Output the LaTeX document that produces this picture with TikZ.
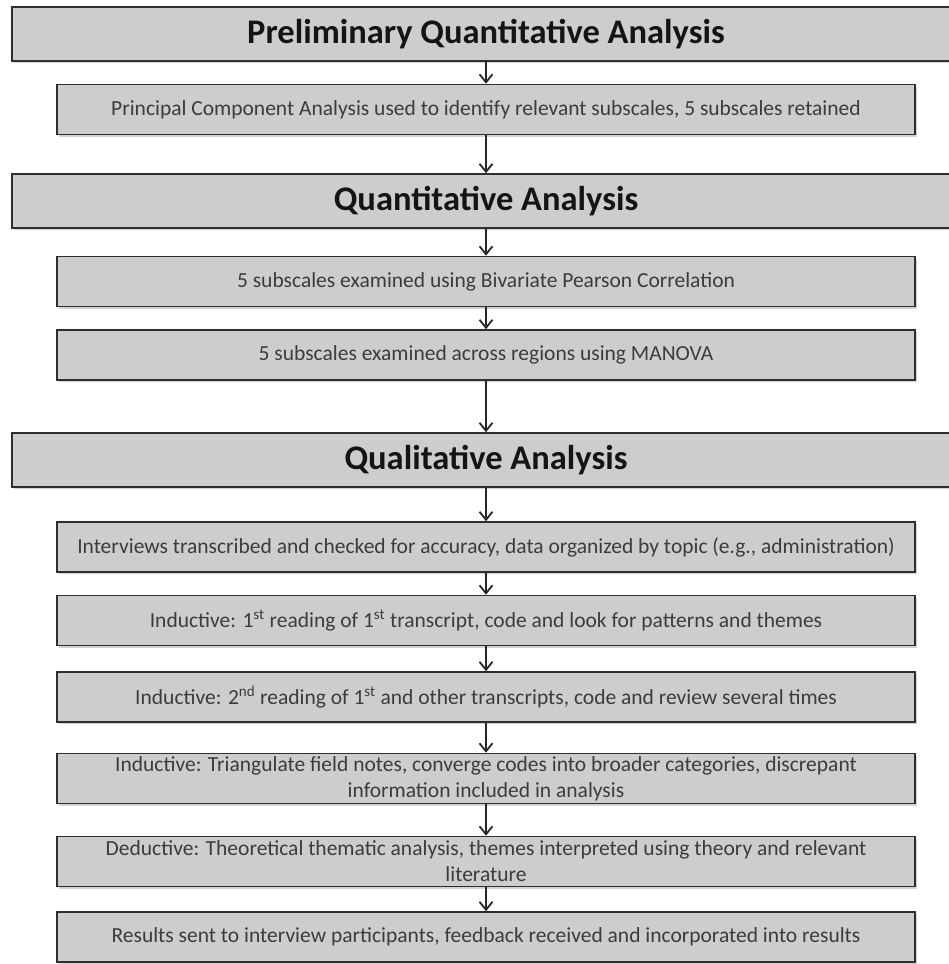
\documentclass[tikz,border=0pt]{standalone}
\usepackage{fontspec}
\setmainfont{Carlito}
\usetikzlibrary{arrows.meta,shadows}
\definecolor{flowfill}{HTML}{CDCDCD}
\definecolor{flowedge}{HTML}{2E2E2E}
\definecolor{flowink}{HTML}{3C3C3C}

\begin{document}
\begin{tikzpicture}[x=1pt,y=-1pt,
    stagebox/.style={draw=flowedge,fill=flowfill,line width=1.6pt,
      minimum width=948pt,minimum height=54pt,inner sep=0pt,
      font=\fontsize{34.5}{40}\selectfont\bfseries,text=black!92,
      drop shadow={opacity=.35,shadow xshift=1.5pt,shadow yshift=-2pt}},
    stepbox/.style={draw=flowedge,fill=flowfill,line width=1.6pt,
      minimum width=858pt,minimum height=50pt,inner xsep=2pt,inner ysep=0pt,
      align=center,font=\fontsize{21.5}{26}\selectfont,text=flowink,
      drop shadow={opacity=.35,shadow xshift=1.5pt,shadow yshift=-2pt}},
    flowarrow/.style={draw=black!85,line width=1.8pt,
      -{Straight Barb[length=8pt,width=13pt]}}]
    \clip (0,0) rectangle (949,964);

    % Preliminary stage
    \node[stagebox] (prelim) at (486,34) {Preliminary Quantitative Analysis};
    \node[stepbox] (pca) at (486,109.5)
      {Principal Component Analysis used to identify relevant subscales, 5 subscales retained};

    % Quantitative stage
    \node[stagebox] (quant) at (486,201) {Quantitative Analysis};
    \node[stepbox] (pearson) at (486,281.5)
      {5 subscales examined using Bivariate Pearson Correlation};
    \node[stepbox] (manova) at (486,355)
      {5 subscales examined across regions using MANOVA};

    % Qualitative stage
    \node[stagebox] (qual) at (486,460) {Qualitative Analysis};
    \node[stepbox] (interviews) at (486,547)
      {Interviews transcribed and checked for accuracy, data organized by topic (e.g., administration)};
    \node[stepbox] (induct1) at (486,620.5)
      {Inductive: 1\textsuperscript{st} reading of 1\textsuperscript{st} transcript, code and look for patterns and themes};
    \node[stepbox] (induct2) at (486,697)
      {Inductive: 2\textsuperscript{nd} reading of 1\textsuperscript{st} and other transcripts, code and review several times};
    \node[stepbox] (triang) at (486,778.5)
      {Inductive: Triangulate field notes, converge codes into broader categories, discrepant\\information included in analysis};
    \node[stepbox] (deduct) at (486,861.5)
      {Deductive: Theoretical thematic analysis, themes interpreted using theory and relevant\\literature};
    \node[stepbox] (results) at (486,937)
      {Results sent to interview participants, feedback received and incorporated into results};

    % Arrows down the chain
    \foreach \a/\b in {prelim/pca,pca/quant,quant/pearson,pearson/manova,
      manova/qual,qual/interviews,interviews/induct1,induct1/induct2,
      induct2/triang,triang/deduct,deduct/results}
      \draw[flowarrow] (\a.south) -- (\b.north);
\end{tikzpicture}
\end{document}
